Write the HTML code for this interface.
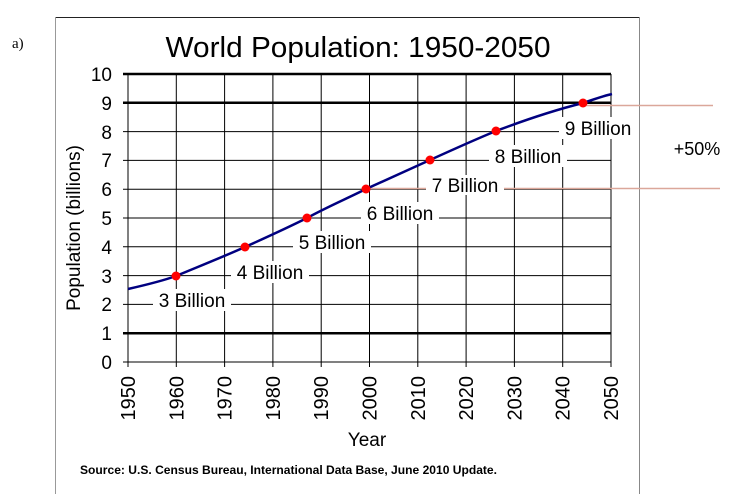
<!DOCTYPE html>
<html><head><meta charset="utf-8"><style>body{margin:0;background:#fff}</style></head><body>
<svg width="740" height="494" xmlns="http://www.w3.org/2000/svg" font-family="Liberation Sans, Arial, sans-serif">
<text x="12" y="48" font-family="Liberation Serif, serif" font-size="15">a)</text>
<line x1="55" y1="17.5" x2="639" y2="17.5" stroke="#222" stroke-width="1"/>
<line x1="55.5" y1="17" x2="55.5" y2="494" stroke="#999" stroke-width="1"/>
<line x1="639.5" y1="17" x2="639.5" y2="494" stroke="#888" stroke-width="1"/>
<text x="358" y="57" font-size="29" text-anchor="middle" textLength="385" lengthAdjust="spacingAndGlyphs">World Population: 1950-2050</text>
<g stroke="#000" stroke-width="1">
<line x1="128" y1="74" x2="128" y2="367"/><line x1="176.3" y1="74" x2="176.3" y2="367"/><line x1="224.6" y1="74" x2="224.6" y2="367"/><line x1="272.9" y1="74" x2="272.9" y2="367"/><line x1="321.2" y1="74" x2="321.2" y2="367"/><line x1="369.5" y1="74" x2="369.5" y2="367"/><line x1="417.8" y1="74" x2="417.8" y2="367"/><line x1="466.1" y1="74" x2="466.1" y2="367"/><line x1="514.4" y1="74" x2="514.4" y2="367"/><line x1="562.7" y1="74" x2="562.7" y2="367"/><line x1="611" y1="74" x2="611" y2="367"/>
<line x1="123" y1="131.6" x2="611" y2="131.6"/><line x1="123" y1="160.4" x2="611" y2="160.4"/><line x1="123" y1="189.2" x2="611" y2="189.2"/><line x1="123" y1="218" x2="611" y2="218"/><line x1="123" y1="246.8" x2="611" y2="246.8"/><line x1="123" y1="275.6" x2="611" y2="275.6"/><line x1="123" y1="304.4" x2="611" y2="304.4"/><line x1="123" y1="362" x2="611" y2="362"/>
</g>
<g stroke="#000" stroke-width="2.5">
<line x1="123" y1="74" x2="611" y2="74"/><line x1="123" y1="102.8" x2="611" y2="102.8"/><line x1="123" y1="333.2" x2="611" y2="333.2"/>
</g>
<line x1="585" y1="105.5" x2="713" y2="105.5" stroke="#dba79a" stroke-width="1.5"/>
<line x1="366" y1="188.5" x2="720" y2="188.5" stroke="#dba79a" stroke-width="1.5"/>
<g font-size="19" text-anchor="end">
<text x="112" y="81">10</text><text x="112" y="110">9</text><text x="112" y="139">8</text><text x="112" y="167">7</text><text x="112" y="196">6</text><text x="112" y="225">5</text><text x="112" y="254">4</text><text x="112" y="283">3</text><text x="112" y="311">2</text><text x="112" y="340">1</text><text x="112" y="369">0</text>
</g>
<g font-size="20" text-anchor="end">
<text transform="translate(135,376) rotate(-90)">1950</text><text transform="translate(183.3,376) rotate(-90)">1960</text><text transform="translate(231.6,376) rotate(-90)">1970</text><text transform="translate(279.9,376) rotate(-90)">1980</text><text transform="translate(328.2,376) rotate(-90)">1990</text><text transform="translate(376.5,376) rotate(-90)">2000</text><text transform="translate(424.8,376) rotate(-90)">2010</text><text transform="translate(473.1,376) rotate(-90)">2020</text><text transform="translate(521.4,376) rotate(-90)">2030</text><text transform="translate(569.7,376) rotate(-90)">2040</text><text transform="translate(618,376) rotate(-90)">2050</text>
</g>
<text x="367" y="446" font-size="19" text-anchor="middle">Year</text>
<text transform="translate(80,228) rotate(-90)" font-size="19" text-anchor="middle">Population  (billions)</text>
<g font-size="19" text-anchor="middle">
<rect x="153" y="289" width="78" height="22" fill="#fff"/><text x="192" y="307">3 Billion</text>
<rect x="231" y="261" width="78" height="22" fill="#fff"/><text x="270" y="279">4 Billion</text>
<rect x="293" y="231" width="78" height="22" fill="#fff"/><text x="332" y="249">5 Billion</text>
<rect x="361" y="202" width="78" height="22" fill="#fff"/><text x="400" y="220">6 Billion</text>
<rect x="426" y="175" width="78" height="20" fill="#fff"/><text x="465" y="192">7 Billion</text>
<rect x="489" y="145" width="78" height="22" fill="#fff"/><text x="528" y="163">8 Billion</text>
<rect x="559" y="117" width="78" height="22" fill="#fff"/><text x="598" y="135">9 Billion</text>
</g>
<path d="M128,289 C150,284 165,280 176,276 C200,266 225,256 245,247 C265,238 287,228 307,218 C327,207 346,199 366,189 C388,179 410,169 430,160 C452,150 474,140 496,131 C525,120 555,110 583,103 C595,99 603,96 612,94" fill="none" stroke="#000080" stroke-width="2.5"/>
<g fill="#f00">
<circle cx="176" cy="276" r="4.5"/><circle cx="245" cy="247" r="4.5"/><circle cx="307" cy="218" r="4.5"/><circle cx="366" cy="189" r="4.5"/><circle cx="430" cy="160" r="4.5"/><circle cx="496" cy="131" r="4.5"/><circle cx="583" cy="103" r="4.5"/>
</g>
<text x="697" y="155" font-size="18" text-anchor="middle">+50%</text>
<text x="80" y="474" font-size="12" font-weight="bold" textLength="417" lengthAdjust="spacingAndGlyphs">Source: U.S. Census Bureau, International Data Base, June 2010 Update.</text>
</svg>
</body></html>
